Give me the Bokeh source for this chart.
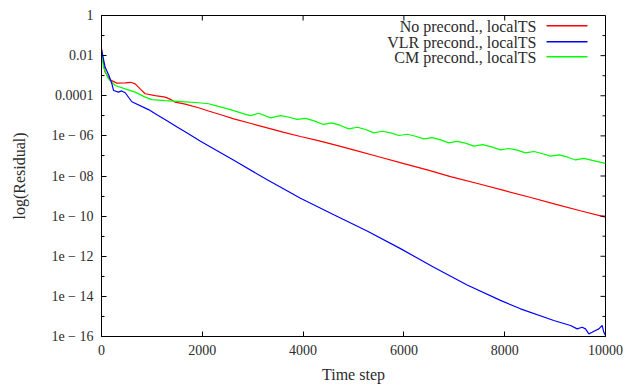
import numpy as np
from bokeh.plotting import figure
from bokeh.models import Range1d, FixedTicker, Label, BoxAnnotation
from bokeh.embed import file_html
from bokeh.resources import INLINE

# ---- data (log10 of residual) ----
red_steps = [0, 40, 73, 172, 304, 470, 580, 668, 767, 866, 1065, 1263, 1370, 1462, 1660,
             1925, 2123, 2400, 2625, 2950, 3288, 3600, 3948, 4300, 4609, 5000, 5500, 6000,
             6500, 6924, 7500, 8000, 8500, 9000, 9500, 10000]
red_log = [-1.65, -2.4, -2.83, -3.21, -3.37, -3.36, -3.33, -3.41, -3.66, -3.9, -3.99, -4.07,
           -4.18, -4.32, -4.42, -4.6, -4.76, -4.97, -5.15, -5.37, -5.6, -5.81, -6.03, -6.24,
           -6.44, -6.7, -7.04, -7.38, -7.72, -8.03, -8.4, -8.73, -9.06, -9.4, -9.73, -10.05]

blue_steps = [0, 73, 150, 205, 240, 337, 400, 470, 602, 932, 1100, 1300, 1500, 1700, 1964,
              2625, 3288, 3948, 4609, 5270, 5932, 6593, 7255, 7916, 8313, 8974, 9306, 9438,
              9537, 9603, 9669, 9735, 9802, 9868, 9934, 9967, 10000]
blue_log = [-1.7, -2.58, -3.0, -3.4, -3.74, -3.82, -3.76, -3.85, -4.3, -4.69, -4.95, -5.25,
            -5.56, -5.86, -6.27, -7.22, -8.19, -9.11, -9.93, -10.74, -11.62, -12.55, -13.43,
            -14.2, -14.62, -15.2, -15.45, -15.62, -15.54, -15.62, -15.87, -15.79, -15.7,
            -15.62, -15.45, -15.79, -15.95]

green_steps = [0, 40, 139, 271, 470, 668, 866, 998, 1263, 1593, 1925, 2123, 2300, 2450, 2625,
               2824, 2956, 3121, 3353, 3551, 3700, 3882, 4050, 4220, 4400, 4570, 4740, 4906,
               5080, 5240, 5403, 5570, 5740, 5900, 6070, 6230, 6395, 6560, 6730, 6890, 7060,
               7220, 7386, 7560, 7740, 7916, 8080, 8250, 8412, 8580, 8740, 8908, 9080, 9240,
               9404, 9570, 9740, 10000]
green_log = [-1.75, -2.58, -3.16, -3.49, -3.66, -3.82, -4.07, -4.19, -4.24, -4.29, -4.35,
             -4.4, -4.52, -4.62, -4.74, -4.9, -4.99, -4.87, -5.1, -4.99, -5.06, -5.18, -5.13,
             -5.25, -5.43, -5.35, -5.48, -5.65, -5.57, -5.68, -5.85, -5.77, -5.85, -5.98,
             -5.92, -6.02, -6.15, -6.09, -6.2, -6.35, -6.27, -6.36, -6.51, -6.44, -6.55, -6.7,
             -6.63, -6.71, -6.85, -6.78, -6.88, -7.01, -6.95, -7.05, -7.2, -7.12, -7.22, -7.37]

series_names = ["No precond., localTS", "VLR precond., localTS", "CM precond., localTS"]
series_colors = ["#ff0000", "#0000ff", "#00ff00"]

x_ticks = [0, 2000, 4000, 6000, 8000, 10000]
y_ticks = [1e-16, 1e-14, 1e-12, 1e-10, 1e-08, 1e-06, 1e-04, 1e-02, 1.0]
y_minor = [1e-15, 1e-13, 1e-11, 1e-09, 1e-07, 1e-05, 1e-03, 1e-01]
y_tick_labels = ["1e \u2212 16", "1e \u2212 14", "1e \u2212 12", "1e \u2212 10", "1e \u2212 08",
                 "1e \u2212 06", "0.0001", "0.01", "1"]

FONT = "Liberation Serif"
TXT = "#2b2b2b"

p = figure(width=635, height=388, y_axis_type="log",
           x_range=Range1d(0, 10000), y_range=Range1d(1e-16, 1),
           output_backend="svg", toolbar_location=None,
           min_border_left=101, min_border_right=30, min_border_top=15, min_border_bottom=52)
p.xgrid.visible = False
p.ygrid.visible = False
p.outline_line_color = "black"
p.outline_line_width = 1
p.background_fill_color = "white"
p.border_fill_color = "white"

for steps, logs, col in [(red_steps, red_log, series_colors[0]),
                         (green_steps, green_log, series_colors[2]),
                         (blue_steps, blue_log, series_colors[1])]:
    p.line(steps, [10.0 ** v for v in logs], line_color=col, line_width=1.2)

def style(ax):
    ax.axis_line_color = "black"
    ax.major_tick_line_color = "black"
    ax.minor_tick_line_color = "black"
    ax.major_tick_in = 5
    ax.major_tick_out = 0
    ax.minor_tick_in = 3
    ax.minor_tick_out = 0
    ax.major_label_text_font = FONT
    ax.major_label_text_font_size = "14px"
    ax.major_label_text_color = TXT
    ax.axis_label_text_font = FONT
    ax.axis_label_text_font_size = "16px"
    ax.axis_label_text_font_style = "normal"
    ax.axis_label_text_color = TXT

xa = p.xaxis[0]
xa.ticker = FixedTicker(ticks=x_ticks)
xa.axis_label = "Time step"
style(xa)
xa.major_label_standoff = 8
xa.axis_label_standoff = 8

ya = p.yaxis[0]
ya.ticker = FixedTicker(ticks=y_ticks, minor_ticks=y_minor)
ya.major_label_overrides = {t: l for t, l in zip(y_ticks, y_tick_labels)}
ya.axis_label = "log(Residual)"
style(ya)
ya.major_label_standoff = 8
ya.axis_label_standoff = 20

# mirrored ticks on top and right edges (inward), from the tick lists
p.ray(x=x_ticks, y=[1.0] * len(x_ticks), length=5, length_units="screen",
      angle=-np.pi / 2, line_color="black", line_width=1)
p.ray(x=[10000] * len(y_ticks), y=y_ticks, length=5, length_units="screen",
      angle=np.pi, line_color="black", line_width=1)
p.ray(x=[10000] * len(y_minor), y=y_minor, length=3, length_units="screen",
      angle=np.pi, line_color="black", line_width=1)

# legend (text right-aligned, sample line to the right)
row_y = [310, 294, 279]
for name, col, yy in zip(series_names, series_colors, row_y):
    p.add_layout(Label(x=435, y=yy, x_units="screen", y_units="screen", text=name,
                       text_align="right", text_baseline="middle", text_font=FONT,
                       text_font_size="16px", text_color=TXT))
    p.add_layout(BoxAnnotation(left=445, right=486, bottom=yy, top=yy + 1.4,
                               left_units="screen", right_units="screen",
                               bottom_units="screen", top_units="screen",
                               fill_color=col, fill_alpha=1.0, line_alpha=0))

open("out.html", "w").write(file_html(p, INLINE))
